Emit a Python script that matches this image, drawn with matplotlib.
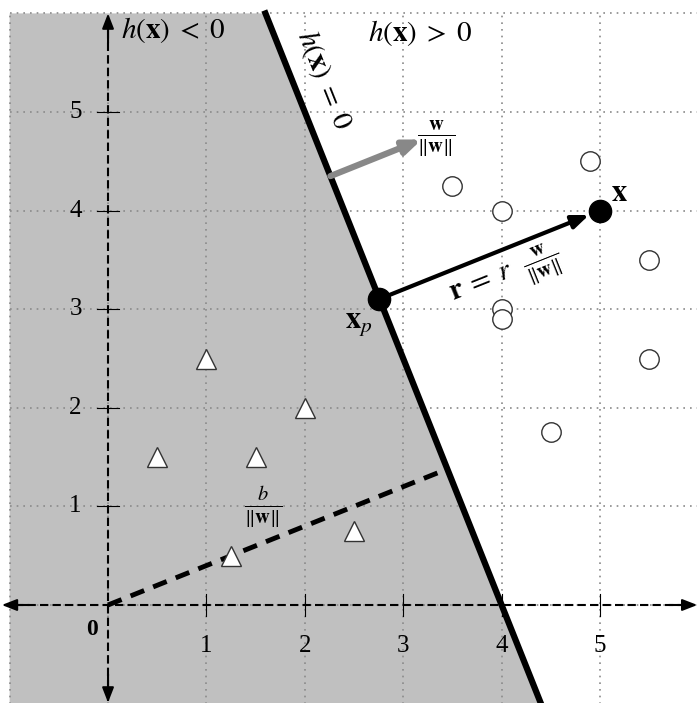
import numpy as np
import matplotlib
matplotlib.use("Agg")
import matplotlib.pyplot as plt
from matplotlib.patches import Polygon

matplotlib.rcParams['font.family'] = 'serif'
matplotlib.rcParams['font.serif'] = ['Liberation Serif', 'DejaVu Serif']
matplotlib.rcParams['mathtext.fontset'] = 'stix'

# separating line  w . x + b = 0
w = np.array([2.5, 1.0])
b = -10.0

# class +1 (circles) and class -1 (triangles)
circles_x = [3.5, 4.0, 4.9, 5.5, 4.0, 4.0, 5.5, 4.5]
circles_y = [4.25, 4.0, 4.5, 3.5, 3.0, 2.9, 2.5, 1.75]
tri_x = [1.0, 0.5, 1.5, 2.0, 1.25, 2.5]
tri_y = [2.5, 1.5, 1.5, 2.0, 0.5, 0.75]

# the point x and its projection
pt = np.array([5.0, 4.0])
ticks = [1, 2, 3, 4, 5]

wn = w / np.linalg.norm(w)
r = (w @ pt + b) / np.linalg.norm(w)
xp = pt - r * wn
foot = -b / (w @ w) * w

def line_x(y):
    return (-b - w[1] * y) / w[0]

fig = plt.figure(figsize=(6.97, 7.03), dpi=100)
ax = fig.add_axes([0, 0, 1, 1])
ax.set_xlim(-1.098, 5.986)
ax.set_ylim(-0.994, 6.136)
ax.axis('off')

# shaded negative half
ax.add_patch(Polygon([(-1, -1), (line_x(-1), -1), (line_x(6), 6), (-1, 6)],
                     closed=True, fc='#c0c0c0', ec='none', zorder=0))

# dotted grid
for g in range(-1, 7):
    ax.plot([g, g], [-1, 6], ls=(0, (1, 3)), color='#8a8a8a', lw=1.2, zorder=1)
    ax.plot([-1, 6], [g, g], ls=(0, (1, 3)), color='#8a8a8a', lw=1.2, zorder=1)

# axes with arrows at both ends
ax.plot([-0.95, 5.95], [0, 0], ls=(0, (4, 2)), color='black', lw=1.5, zorder=2)
ax.plot([0, 0], [-0.97, 5.97], ls=(0, (4, 2)), color='black', lw=1.5, zorder=2)
aprops = dict(arrowstyle='-|>,head_length=0.9,head_width=0.35', color='black', lw=1.5,
              shrinkA=0, shrinkB=0)
ax.annotate('', xy=(5.99, 0), xytext=(5.7, 0), arrowprops=aprops, zorder=3)
ax.annotate('', xy=(-1.08, 0), xytext=(-0.8, 0), arrowprops=aprops, zorder=3)
ax.annotate('', xy=(0, 6.0), xytext=(0, 5.7), arrowprops=aprops, zorder=3)
ax.annotate('', xy=(0, -0.99), xytext=(0, -0.7), arrowprops=aprops, zorder=3)
for t in ticks:
    ax.plot([t, t], [-0.11, 0.11], color='black', lw=0.8, zorder=2)
    ax.plot([-0.11, 0.11], [t, t], color='black', lw=0.8, zorder=2)
    ax.text(t, -0.42, str(t), ha='center', va='center', fontsize=18)
    ax.text(-0.33, t, str(t), ha='center', va='center', fontsize=18)
ax.text(-0.16, -0.25, '0', ha='center', va='center', fontsize=17, fontweight='bold')

# decision boundary
ax.plot([line_x(6), line_x(-1)], [6, -1], color='black', lw=4.5, zorder=4)

# distance from origin
ax.plot([0, foot[0]], [0, foot[1]], ls=(0, (3, 2)), color='black', lw=3.5, zorder=4)

# data points
ax.plot(circles_x, circles_y, 'o', ms=14, mfc='white', mec='#333333', mew=1.0, zorder=5)
ax.plot(tri_x, tri_y, '^', ms=15, mfc='white', mec='#333333', mew=1.0, zorder=5)

# unit normal arrow
start = np.array([line_x(4.35), 4.35])
ax.annotate('', xy=start + wn, xytext=start,
            arrowprops=dict(arrowstyle='-|>,head_length=1.0,head_width=0.4',
                            color='#888888', lw=4.5, shrinkA=0, shrinkB=0), zorder=5)

# r vector from x_p to x
ax.annotate('', xy=pt - 0.12 * wn, xytext=xp,
            arrowprops=dict(arrowstyle='-|>,head_length=1.0,head_width=0.4',
                            color='black', lw=3, shrinkA=0, shrinkB=0), zorder=6)
ax.plot([xp[0], pt[0]], [xp[1], pt[1]], 'o', color='black', ms=16, zorder=7)

ang = np.degrees(np.arctan2(-w[0], w[1]))
ax.text(0.13, 5.83, r'$h(\mathbf{x})\;<\;0$', ha='left', va='center', fontsize=21)
ax.text(2.64, 5.8, r'$h(\mathbf{x})\;>\;0$', ha='left', va='center', fontsize=21)
ax.text(2.2, 5.33, r'$h(\mathbf{x})\;=\;0$', ha='center', va='center', fontsize=21,
        rotation=ang, rotation_mode='anchor')
ax.text(3.33, 4.73, r'$\frac{\mathbf{w}}{\|\mathbf{w}\|}$', ha='center', va='center', fontsize=21)
ax.text(5.2, 4.17, r'$\mathbf{x}$', ha='center', va='center', fontsize=22)
ax.text(2.55, 2.85, r'$\mathbf{x}_p$', ha='center', va='center', fontsize=22)
ax.text(4.05, 3.32, r'$\mathbf{r}\;=\;r\ \ \frac{\mathbf{w}}{\|\mathbf{w}\|}$', ha='center',
        va='center', fontsize=21, rotation=np.degrees(np.arctan2(w[1], w[0])),
        rotation_mode='anchor')
ax.text(1.58, 1.0, r'$\frac{b}{\|\mathbf{w}\|}$', ha='center', va='center', fontsize=21)

fig.savefig('out.png', dpi=100)
